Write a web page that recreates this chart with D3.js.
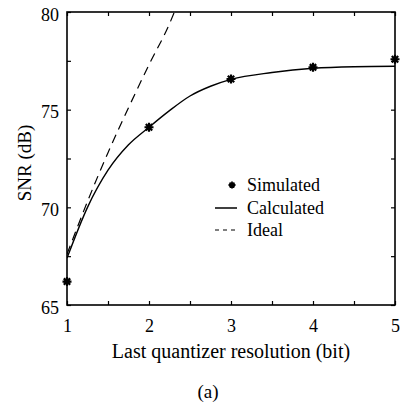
<!DOCTYPE html>
<html>
<head>
<meta charset="utf-8">
<script src="https://cdn.jsdelivr.net/npm/d3@7/dist/d3.min.js"></script>
<style>
  html, body { margin: 0; padding: 0; background: #fff; }
  svg { display: block; }
  svg text { font-family: "Liberation Serif", "Times New Roman", serif !important; fill: #000; }
</style>
</head>
<body>
<svg id="chart" width="401" height="404"></svg>
<script>
// Last quantizer resolution (bit) on x, SNR (dB) on y
const simBits = [1, 2, 3, 4, 5];
const simSNR = [66.2, 74.1, 76.57, 77.17, 77.58];

const calcBits = [1, 1.25, 1.5, 1.75, 2, 2.25, 2.5, 2.75, 3, 3.5, 4, 4.5, 5];
const calcSNR = [67.4, 70.0, 71.9, 73.2, 74.1, 74.95, 75.7, 76.2, 76.55, 76.9, 77.12, 77.2, 77.22];

const idealBits = [1, 1.25, 1.5, 1.75, 2, 2.25, 2.31];
const idealSNR = [67.6, 70.3, 72.8, 75.1, 77.3, 79.4, 80];

const xTicks = [1, 1.5, 2, 2.5, 3, 3.5, 4, 4.5, 5];
const yTicks = [65, 67.5, 70, 72.5, 75, 77.5, 80];
const xTickLabels = ["1", "", "2", "", "3", "", "4", "", "5"];
const yTickLabels = ["65", "", "70", "", "75", "", "80"];

const legendItems = ["Simulated", "Calculated", "Ideal"];

const svg = d3.select("#chart");
const mLeft = 67, mRight = 395, mTop = 12, mBottom = 305;

const x = d3.scaleLinear().domain([1, 5]).range([mLeft, mRight]);
const y = d3.scaleLinear().domain([65, 80]).range([mBottom, mTop]);

svg.append("defs").append("clipPath").attr("id", "plotClip")
  .append("rect").attr("x", mLeft).attr("y", mTop)
  .attr("width", mRight - mLeft).attr("height", mBottom - mTop);

// Axes with inward ticks on all four sides
const tickLen = 4;
function styleAxis(g) {
  g.attr("font-family", null).attr("font-size", 18);
  g.select(".domain").remove();
  g.selectAll(".tick line").attr("stroke", "#000").attr("stroke-width", 1.2);
  g.selectAll(".tick text").attr("fill", "#000").attr("font-size", 18);
}

svg.append("g").attr("transform", `translate(0,${mBottom})`)
  .call(d3.axisBottom(x).tickValues(xTicks).tickSize(-tickLen).tickPadding(14)
    .tickFormat((d, i) => xTickLabels[i]))
  .call(styleAxis);
svg.append("g").attr("transform", `translate(0,${mTop})`)
  .call(d3.axisTop(x).tickValues(xTicks).tickSize(-tickLen).tickFormat(""))
  .call(styleAxis);
svg.append("g").attr("transform", `translate(${mLeft},0)`)
  .call(d3.axisLeft(y).tickValues(yTicks).tickSize(-tickLen).tickPadding(8)
    .tickFormat((d, i) => yTickLabels[i]))
  .call(styleAxis)
  .selectAll(".tick text").attr("dy", "0.45em");
svg.append("g").attr("transform", `translate(${mRight},0)`)
  .call(d3.axisRight(y).tickValues(yTicks).tickSize(-tickLen).tickFormat(""))
  .call(styleAxis);

// Plot frame
svg.append("rect").attr("x", mLeft).attr("y", mTop)
  .attr("width", mRight - mLeft).attr("height", mBottom - mTop)
  .attr("fill", "none").attr("stroke", "#000").attr("stroke-width", 1.6);

// Curves
const line = d3.line().curve(d3.curveMonotoneX);
const plot = svg.append("g").attr("clip-path", "url(#plotClip)");

plot.append("path")
  .attr("d", line(idealBits.map((b, i) => [x(b), y(idealSNR[i])])))
  .attr("fill", "none").attr("stroke", "#000").attr("stroke-width", 1.2)
  .attr("stroke-dasharray", "9,6");

plot.append("path")
  .attr("d", line(calcBits.map((b, i) => [x(b), y(calcSNR[i])])))
  .attr("fill", "none").attr("stroke", "#000").attr("stroke-width", 1.4);

// Eight-armed star marker
const star8 = {
  draw(ctx, size) {
    const r = Math.sqrt(size) / 2;
    const d = r * Math.SQRT1_2;
    ctx.moveTo(-r, 0); ctx.lineTo(r, 0);
    ctx.moveTo(0, -r); ctx.lineTo(0, r);
    ctx.moveTo(-d, -d); ctx.lineTo(d, d);
    ctx.moveTo(-d, d); ctx.lineTo(d, -d);
  }
};
const starPath = d3.symbol().type(star8).size(81);

svg.append("g").selectAll("path.sim")
  .data(simBits.map((b, i) => [b, simSNR[i]]))
  .join("path").attr("class", "sim")
  .attr("transform", d => `translate(${x(d[0])},${y(d[1])})`)
  .attr("d", starPath())
  .attr("fill", "none").attr("stroke", "#000").attr("stroke-width", 2.2);

// Legend
const lg = svg.append("g").attr("font-size", 18);
const lgX = 247, lgY = [185, 208, 230];
lg.append("path").attr("transform", `translate(232,${lgY[0]})`)
  .attr("d", d3.symbol().type(star8).size(49)())
  .attr("fill", "none").attr("stroke", "#000").attr("stroke-width", 1.8);
lg.append("line").attr("x1", 215).attr("x2", 237).attr("y1", lgY[1]).attr("y2", lgY[1])
  .attr("stroke", "#000").attr("stroke-width", 1.5);
lg.append("line").attr("x1", 215).attr("x2", 237).attr("y1", lgY[2]).attr("y2", lgY[2])
  .attr("stroke", "#000").attr("stroke-width", 1.2).attr("stroke-dasharray", "4,4");
lg.selectAll("text").data(legendItems).join("text")
  .attr("x", lgX).attr("y", (d, i) => lgY[i]).attr("dy", "0.35em")
  .text(d => d);

// Axis titles and caption
svg.append("text").attr("x", (mLeft + mRight) / 2).attr("y", 358)
  .attr("text-anchor", "middle").attr("font-size", 20)
  .text("Last quantizer resolution (bit)");
svg.append("text")
  .attr("transform", `translate(31,${163}) rotate(-90)`)
  .attr("text-anchor", "middle").attr("font-size", 19)
  .text("SNR (dB)");
svg.append("text").attr("x", 208).attr("y", 398)
  .attr("text-anchor", "middle").attr("font-size", 19)
  .text("(a)");
</script>
</body>
</html>
